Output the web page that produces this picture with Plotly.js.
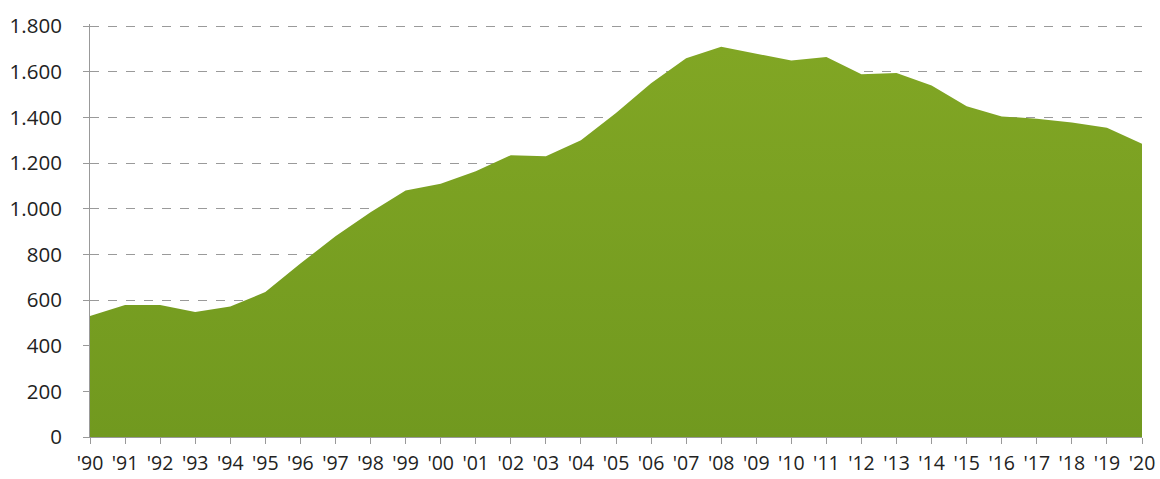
<!DOCTYPE html>
<html>
<head>
<meta charset="utf-8">
<script src="https://cdn.plot.ly/plotly-3.0.1.min.js"></script>
<style>html,body{margin:0;padding:0;background:#fff;}#chart{width:1160px;height:479px;}</style>
</head>
<body>
<div id="chart"></div>
<script>
const years = [1990,1991,1992,1993,1994,1995,1996,1997,1998,1999,2000,2001,2002,2003,2004,2005,2006,2007,2008,2009,2010,2011,2012,2013,2014,2015,2016,2017,2018,2019,2020];
const values = [530,578,578,548,572,635,760,880,985,1080,1110,1165,1235,1230,1300,1420,1550,1660,1710,1680,1650,1665,1590,1595,1540,1450,1405,1395,1378,1355,1285];
const tickLabels = ["'90","'91","'92","'93","'94","'95","'96","'97","'98","'99","'00","'01","'02","'03","'04","'05","'06","'07","'08","'09","'10","'11","'12","'13","'14","'15","'16","'17","'18","'19","'20"];
const yTicks = [0,200,400,600,800,1000,1200,1400,1600,1800];
const unitLabel = "Tonnellate";

const trace = {
  x: years, y: values, type: 'scatter', mode: 'lines',
  line: {width: 0, color: '#79a121'},
  fill: 'tozeroy',
  fillcolor: '#79a121',
  fillgradient: {type: 'vertical', colorscale: [[0, '#71991f'], [1, '#81a624']]},
  hoverinfo: 'x+y'
};

const layout = {
  width: 1160, height: 479,
  margin: {l: 90, r: 18, t: 24, b: 42},
  paper_bgcolor: '#fff', plot_bgcolor: '#fff',
  showlegend: false,
  separators: ',.',
  font: {family: 'Open Sans, sans-serif', color: '#222', size: 20},
  xaxis: {
    range: [1990, 2020], tickvals: years, ticktext: tickLabels,
    showgrid: false, zeroline: false,
    showline: true, linecolor: '#999', linewidth: 1,
    ticks: 'outside', ticklen: 6, tickcolor: '#999',
    ticklabelstandoff: 3,
    tickfont: {size: 19.5, color: '#222'}
  },
  yaxis: {
    range: [0, 1810], tickvals: yTicks, tickformat: ',d',
    showgrid: true, gridcolor: '#9a9a9a', griddash: 'dash', gridwidth: 1,
    zeroline: false,
    showline: true, linecolor: '#999', linewidth: 1,
    ticks: 'outside', ticklen: 6, tickcolor: '#999',
    ticklabelstandoff: 17,
    tickfont: {size: 20.5, color: '#222'}
  },
  annotations: [{
    text: unitLabel, xref: 'paper', yref: 'paper', x: -0.078, y: 1.038,
    xanchor: 'left', yanchor: 'bottom', showarrow: false,
    font: {size: 20, color: '#444'}
  }]
};

Plotly.newPlot('chart', [trace], layout, {displayModeBar: false, staticPlot: true});
</script>
</body>
</html>
